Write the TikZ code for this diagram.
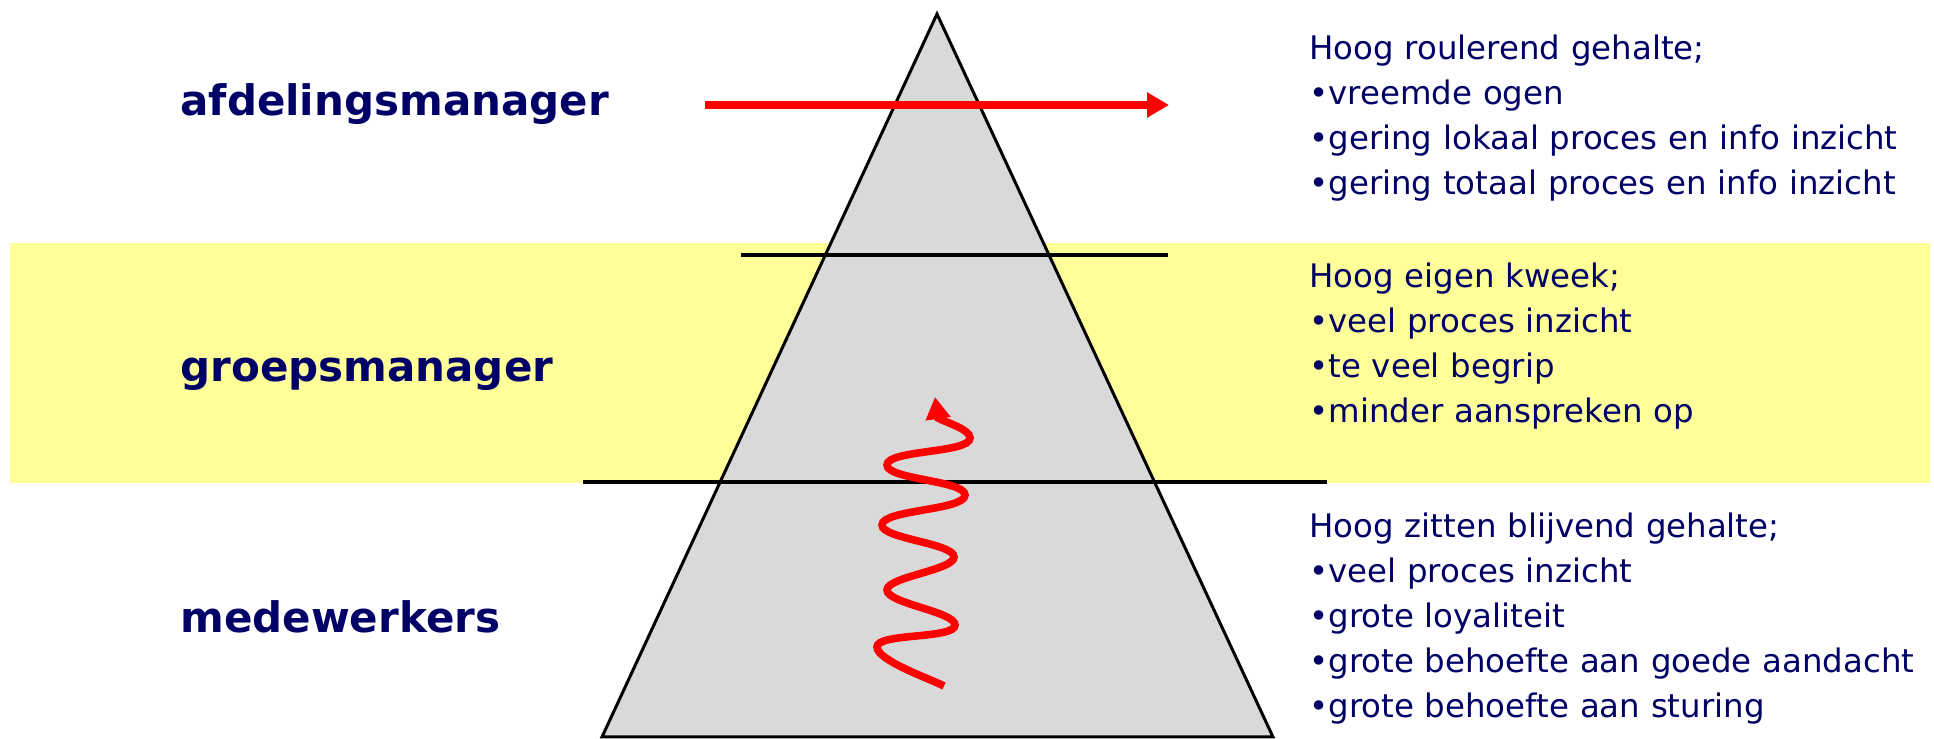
\documentclass[tikz,border=0pt]{standalone}
\usepackage{fontspec}
\setmainfont{DejaVu Sans}
\usetikzlibrary{arrows.meta}
\definecolor{navy}{RGB}{0,0,102}
\definecolor{paleyellow}{RGB}{255,255,153}
\definecolor{pyramidgray}{RGB}{217,217,217}
\definecolor{arrowred}{RGB}{255,0,0}

\begin{document}
\begin{tikzpicture}[x=0.5pt, y=0.5pt, >={Triangle[length=11pt, width=12pt]},
    level/.style={font=\bfseries\fontsize{21}{25}\selectfont, text=navy,
      anchor=base west, inner sep=0pt},
    remark/.style={font=\fontsize{16.2}{22.5}\selectfont, text=navy,
      anchor=base west, inner sep=0pt, align=left, text width=320pt},
    redline/.style={arrowred, line width=3.8pt},
    swing/.style={out=90, in=-90, looseness=0.45}]
  \useasboundingbox (0,0) rectangle (1934,739);
  % middle band
  \fill[paleyellow] (10,256) rectangle (1930,496);
  % pyramid
  \draw[fill=pyramidgray, line width=1.5pt] (937,725) -- (602,2) -- (1273,2) -- cycle;
  \draw[line width=2pt] (741,484) -- (1168,484);
  \draw[line width=2pt] (583,257) -- (1327,257);
  % levels
  \node[level] (top) at (180,623) {afdelingsmanager};
  \node[level] (mid) at (180,357) {groepsmanager};
  \node[level] (low) at (180,106) {medewerkers};
  % remarks
  \node[remark] (topnote) at (1309,679) {Hoog roulerend gehalte;\\
    •vreemde ogen\\
    •gering lokaal proces en info inzicht\\
    •gering totaal proces en info inzicht};
  \node[remark] (midnote) at (1309,451) {Hoog eigen kweek;\\
    •veel proces inzicht\\
    •te veel begrip\\
    •minder aanspreken op};
  \node[remark] (lownote) at (1309,201) {Hoog zitten blijvend gehalte;\\
    •veel proces inzicht\\
    •grote loyaliteit\\
    •grote behoefte aan goede aandacht\\
    •grote behoefte aan sturing};
  % arrows
  \draw[redline, ->] (705,634) -- (1169,634);
  \draw[redline, ->] (944,53) to[out=152, in=-90, looseness=0.45] (877,92)
    to[swing] (955,114) to[swing] (887,149) to[swing] (954,182)
    to[swing] (882,214) to[swing] (965,244) to[swing] (887,274)
    to[swing] (970,301) to[out=90, in=-30, looseness=0.6] (938,321) -- (935,342);
\end{tikzpicture}
\end{document}
